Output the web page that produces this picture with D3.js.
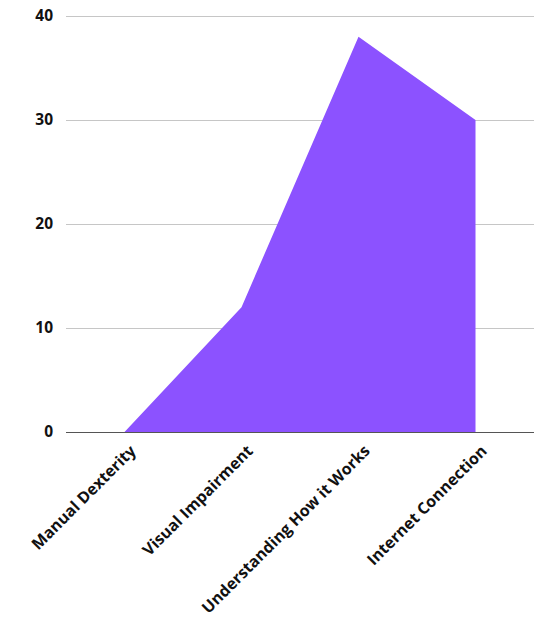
<!DOCTYPE html>
<html>
<head>
<meta charset="utf-8">
<script src="https://cdn.jsdelivr.net/npm/d3@7"></script>
<style>
  html, body { margin: 0; padding: 0; background: #fff; }
  svg { display: block; }
</style>
</head>
<body>
<svg id="chart" width="542" height="618"></svg>
<script>
// Barriers reported, one value per category
const categories = ["Manual Dexterity", "Visual Impairment", "Understanding How it Works", "Internet Connection"];
const values = [0, 12, 38, 30];
const yTicks = [0, 10, 20, 30, 40];

const FONT = "'Open Sans', sans-serif";
const svg = d3.select("#chart");
const margin = { top: 16, right: 8, bottom: 186, left: 66 };
const width = 542 - margin.left - margin.right;
const height = 618 - margin.top - margin.bottom;

const g = svg.append("g").attr("transform", `translate(${margin.left},${margin.top})`);

const x = d3.scalePoint().domain(categories).range([0, width]).padding(0.5);
const y = d3.scaleLinear().domain([0, 40]).range([height, 0]);

// Horizontal gridlines with the value labels
const yAxis = g.append("g")
  .call(d3.axisLeft(y).tickValues(yTicks).tickSize(-width).tickPadding(14).tickFormat(d3.format("d")))
  .attr("font-family", FONT);
yAxis.select(".domain").remove();
yAxis.selectAll(".tick line").attr("stroke", "#c6c6c6").attr("stroke-width", 1);
yAxis.selectAll(".tick text")
  .attr("fill", "#111").attr("font-size", 15.5).attr("font-weight", 700)
  .attr("x", -13);

// Filled area
const area = d3.area()
  .x((d, i) => x(categories[i]))
  .y0(y(0))
  .y1(d => y(d));
g.append("path")
  .datum(values)
  .attr("fill", "#8c52ff")
  .attr("d", area);

// Baseline and rotated category labels
const xAxis = g.append("g")
  .attr("transform", `translate(0,${height})`)
  .call(d3.axisBottom(x).tickSize(0).tickPadding(0))
  .attr("font-family", FONT);
xAxis.select(".domain").attr("stroke", "#555").attr("d", `M0,0.5H${width}`);
xAxis.selectAll(".tick text")
  .attr("fill", "#111").attr("font-size", 16).attr("font-weight", 700)
  .attr("text-anchor", "end")
  .attr("dy", "0.35em")
  .attr("transform", "translate(8,16) rotate(-45)");
</script>
</body>
</html>
